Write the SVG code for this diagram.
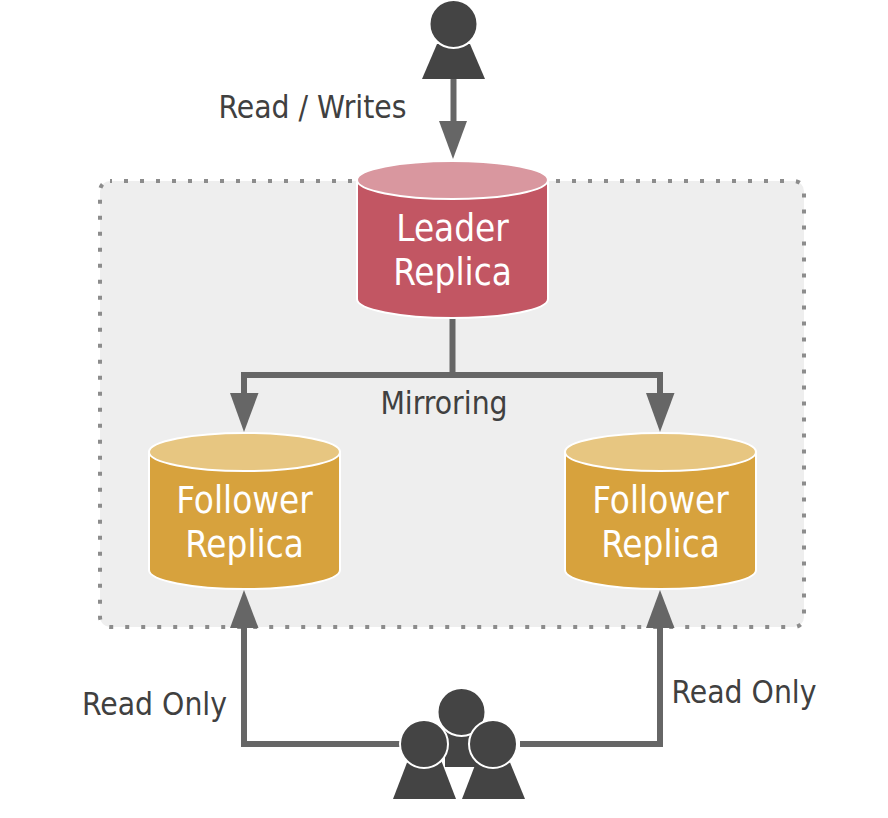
<svg xmlns="http://www.w3.org/2000/svg" width="888" height="818" viewBox="0 0 888 818">
<style>
.t{font-family:"DejaVu Sans",sans-serif;font-stretch:condensed;font-size:31.500px;text-anchor:middle}
.l{font-size:36.500px}
.d{fill:#404040}
.w{fill:#fff}
.c{fill:none;stroke:#666;stroke-width:6}
.a{fill:#666}
.p{fill:#444;stroke:#fff;stroke-width:2}
.b{fill:#444}
.cy{stroke:#fff;stroke-width:2}
</style>
<rect id="group" x="100" y="181" width="704" height="446" rx="10" fill="#eee" stroke="#8c8c8c" stroke-width="4" stroke-dasharray="4 12" stroke-dashoffset="2"/>
<g id="connectors">
<path class="c" d="M453.500 79V125"/>
<polygon class="a" points="439,121 467,121 453,159"/>
<path class="c" d="M452.500 318V375M244 396V375H660V396"/>
<polygon class="a" points="230,393 258.500,393 244,432"/>
<polygon class="a" points="646,393 674.500,393 660,432"/>
<path class="c" d="M400 744H244V625M520 744H660V625"/>
<polygon class="a" points="230,628 258.500,628 244,590"/>
<polygon class="a" points="646,628 674.500,628 660,590"/>
</g>
<g id="user">
<polygon class="b" points="437,44 470,44 485,79 422,79"/>
<circle class="p" cx="453.500" cy="24" r="24"/>
</g>
<g id="users">
<polygon class="b" points="445,730 480,730 480,767 445,767"/>
<circle class="p" cx="461.500" cy="712" r="24"/>
<polygon class="b" points="408,760 441,760 456,799 393,799"/>
<circle class="p" cx="424" cy="744" r="24"/>
<polygon class="b" points="477,760 509,760 525,799 462,799"/>
<circle class="p" cx="493" cy="744" r="24"/>
</g>
<g id="leader">
<path class="cy" fill="#c25663" d="M357 180V299A95.500 19 0 0 0 548 299V180Z"/>
<ellipse class="cy" fill="#d9979f" cx="452.500" cy="180" rx="95.500" ry="19"/>
<text class="t l w" x="452.500" y="241">Leader</text>
<text class="t l w" x="452.500" y="285">Replica</text>
</g>
<g id="follower-left">
<path class="cy" fill="#d7a23d" d="M149 452V570A95.500 19 0 0 0 340 570V452Z"/>
<ellipse class="cy" fill="#e7c681" cx="244.500" cy="452" rx="95.500" ry="19"/>
<text class="t l w" x="244.500" y="513">Follower</text>
<text class="t l w" x="244.500" y="557">Replica</text>
</g>
<g id="follower-right">
<path class="cy" fill="#d7a23d" d="M565 452V570A95.500 19 0 0 0 756 570V452Z"/>
<ellipse class="cy" fill="#e7c681" cx="660.500" cy="452" rx="95.500" ry="19"/>
<text class="t l w" x="660.500" y="513">Follower</text>
<text class="t l w" x="660.500" y="557">Replica</text>
</g>
<text class="t d" x="312.500" y="118">Read / Writes</text>
<text class="t d" x="444" y="414">Mirroring</text>
<text class="t d" x="154.500" y="715">Read Only</text>
<text class="t d" x="744" y="703">Read Only</text>
</svg>
